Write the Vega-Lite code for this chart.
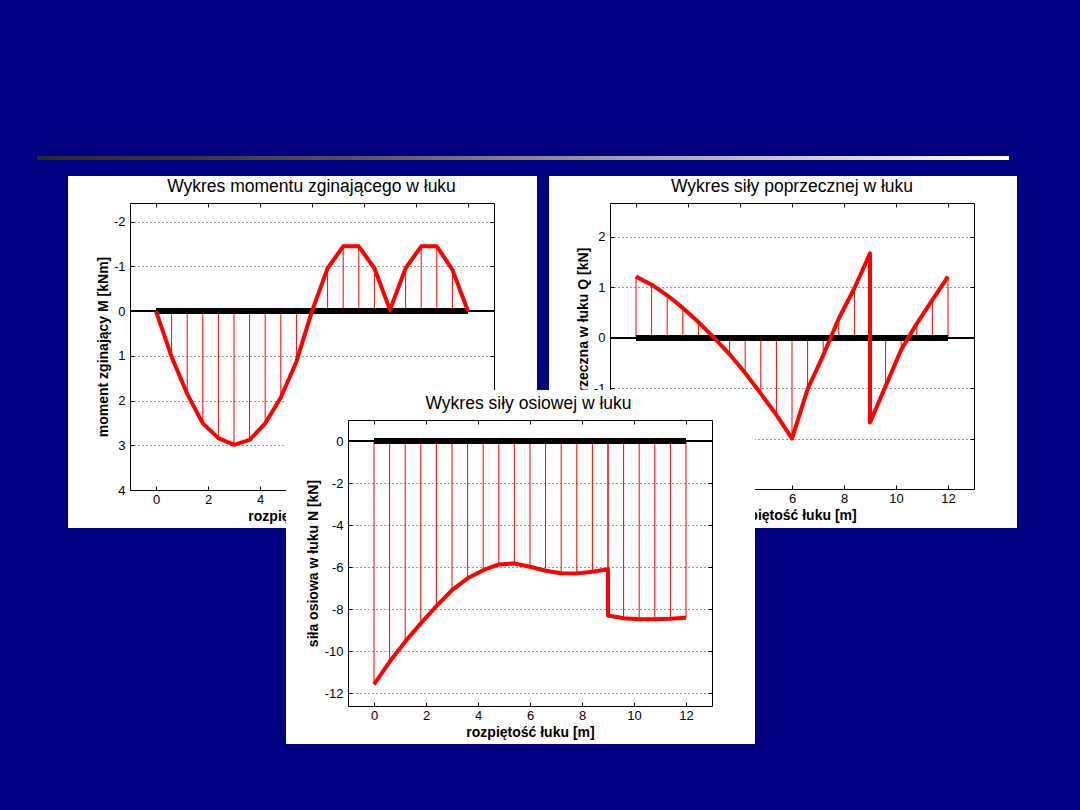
{
  "$schema": "https://vega.github.io/schema/vega-lite/v6.json",
  "background": "#000080",
  "padding": {"left": 37, "top": 156, "right": 63, "bottom": 66},
  "config": {
    "font": "Liberation Sans",
    "view": {"stroke": null},
    "title": {"font": "Liberation Sans", "fontSize": 17.5, "fontWeight": "normal", "color": "black", "anchor": "middle", "frame": "group", "baseline": "alphabetic"},
    "axis": {
      "grid": false, "domainColor": "black", "domainWidth": 1, "tickColor": "black", "tickSize": -4, "tickWidth": 1,
      "labelColor": "black", "labelFont": "Liberation Sans", "labelFontSize": 13, "labelFlush": false, "labelOverlap": false,
      "titleColor": "black", "titleFont": "Liberation Sans", "titleFontSize": 14, "titleFontWeight": "bold",
      "gridColor": "#333333", "gridDash": [1, 3], "gridWidth": 1, "gridOpacity": 1
    },
    "axisX": {"labelPadding": 7, "titlePadding": 3},
    "axisY": {"labelPadding": 9}
  },
  "datasets": {
    "M": [
      {"x": 0, "M": 0}, {"x": 0.6, "M": 1.02}, {"x": 1.2, "M": 1.85}, {"x": 1.8, "M": 2.51}, {"x": 2.4, "M": 2.84},
      {"x": 3.0, "M": 2.99}, {"x": 3.6, "M": 2.88}, {"x": 4.2, "M": 2.51}, {"x": 4.8, "M": 1.93}, {"x": 5.4, "M": 1.13},
      {"x": 6.0, "M": 0.0}, {"x": 6.6, "M": -0.96}, {"x": 7.2, "M": -1.45}, {"x": 7.8, "M": -1.45}, {"x": 8.4, "M": -0.96},
      {"x": 9.0, "M": -0.03}, {"x": 9.6, "M": -0.96}, {"x": 10.2, "M": -1.45}, {"x": 10.8, "M": -1.45}, {"x": 11.4, "M": -0.93},
      {"x": 12.0, "M": 0}
    ],
    "Q": [
      {"i": 0, "x": 0, "Q": 1.21}, {"i": 1, "x": 0.6, "Q": 1.05}, {"i": 2, "x": 1.2, "Q": 0.84}, {"i": 3, "x": 1.8, "Q": 0.59},
      {"i": 4, "x": 2.4, "Q": 0.31}, {"i": 5, "x": 3.0, "Q": 0.0}, {"i": 6, "x": 3.6, "Q": -0.33}, {"i": 7, "x": 4.2, "Q": -0.7},
      {"i": 8, "x": 4.8, "Q": -1.11}, {"i": 9, "x": 5.4, "Q": -1.53}, {"i": 10, "x": 6.0, "Q": -2.0}, {"i": 11, "x": 6.6, "Q": -1.02},
      {"i": 12, "x": 7.2, "Q": -0.35}, {"i": 13, "x": 7.8, "Q": 0.38}, {"i": 14, "x": 8.4, "Q": 0.98}, {"i": 15, "x": 9.0, "Q": 1.67},
      {"i": 16, "x": 9.0, "Q": -1.68}, {"i": 17, "x": 9.6, "Q": -0.96}, {"i": 18, "x": 10.2, "Q": -0.24}, {"i": 19, "x": 10.8, "Q": 0.28},
      {"i": 20, "x": 11.4, "Q": 0.75}, {"i": 21, "x": 12.0, "Q": 1.21}
    ],
    "N": [
      {"i": 0, "x": 0, "N": -11.57}, {"i": 1, "x": 0.6, "N": -10.5}, {"i": 2, "x": 1.2, "N": -9.54}, {"i": 3, "x": 1.8, "N": -8.67},
      {"i": 4, "x": 2.4, "N": -7.85}, {"i": 5, "x": 3.0, "N": -7.09}, {"i": 6, "x": 3.6, "N": -6.53}, {"i": 7, "x": 4.2, "N": -6.14},
      {"i": 8, "x": 4.8, "N": -5.87}, {"i": 9, "x": 5.4, "N": -5.82}, {"i": 10, "x": 6.0, "N": -5.98}, {"i": 11, "x": 6.6, "N": -6.17},
      {"i": 12, "x": 7.2, "N": -6.29}, {"i": 13, "x": 7.8, "N": -6.3}, {"i": 14, "x": 8.4, "N": -6.22}, {"i": 15, "x": 9.0, "N": -6.1},
      {"i": 16, "x": 9.0, "N": -8.3}, {"i": 17, "x": 9.6, "N": -8.43}, {"i": 18, "x": 10.2, "N": -8.48}, {"i": 19, "x": 10.8, "N": -8.48},
      {"i": 20, "x": 11.4, "N": -8.45}, {"i": 21, "x": 12.0, "N": -8.4}
    ]
  },
  "spacing": 16,
  "vconcat": [
    {
      "width": 972, "height": 4,
      "data": {"values": [{"element": "separator"}]},
      "mark": {"type": "rect", "stroke": null, "fill": {"gradient": "linear", "x1": 0, "y1": 0, "x2": 1, "y2": 0,
        "stops": [
          {"offset": 0, "color": "#2a2a2a"}, {"offset": 0.157, "color": "#383838"}, {"offset": 0.288, "color": "#4e4e4e"},
          {"offset": 0.366, "color": "#606060"}, {"offset": 0.459, "color": "#7a7a7a"}, {"offset": 0.613, "color": "#a4a4a4"},
          {"offset": 0.708, "color": "#b8b8b8"}, {"offset": 0.79, "color": "#cdcdcd"}, {"offset": 0.865, "color": "#dedede"},
          {"offset": 0.964, "color": "#f6f6f6"}, {"offset": 1, "color": "#ffffff"}
        ]}},
      "encoding": {}
    },
    {
      "columns": 1,
      "align": "none",
      "bounds": "full",
      "spacing": -138,
      "concat": [
        {
          "spacing": 12,
          "hconcat": [
            {"width": 19, "height": 1, "data": {"values": []}, "mark": "point"},
            {
              "width": 469, "height": 352,
              "view": {"fill": "white", "stroke": null},
              "title": {"text": "Wykres momentu zginającego w łuku", "offset": -19, "dx": 9},
              "data": {"name": "M"},
              "resolve": {"axis": {"x": "independent", "y": "independent"}},
              "layer": [
                {
                  "mark": {"type": "rule", "color": "#ff0000", "strokeWidth": 1},
                  "encoding": {
                    "x": {"field": "x", "type": "quantitative",
                      "scale": {"domain": [-1, 13], "range": [62, 426], "nice": false, "zero": false},
                      "axis": {"orient": "bottom", "values": [0, 2, 4, 6, 8, 10, 12], "title": "rozpiętość łuku [m]", "offset": -38}},
                    "y": {"field": "M", "type": "quantitative",
                      "scale": {"domain": [-2.42, 4], "range": [27, 314], "nice": false, "zero": false},
                      "axis": {"orient": "left", "values": [-2, -1, 0, 1, 2, 3, 4], "labelExpr": "'' + datum.value", "title": "moment zginający M [kNm]", "offset": -62, "grid": true, "minExtent": 18, "maxExtent": 18, "titlePadding": 2}},
                    "y2": {"datum": 0}
                  }
                },
                {
                  "mark": {"type": "rule", "color": "black", "strokeWidth": 1},
                  "encoding": {"x": {"datum": -1, "axis": null}, "x2": {"datum": 13}, "y": {"datum": 0, "axis": null}}
                },
                {
                  "mark": {"type": "rule", "color": "black", "strokeWidth": 5},
                  "encoding": {"x": {"datum": 0, "axis": null}, "x2": {"datum": 12}, "y": {"datum": 0, "axis": null}}
                },
                {
                  "mark": {"type": "line", "color": "#ff0000", "strokeWidth": 4, "strokeJoin": "round"},
                  "encoding": {
                    "x": {"field": "x", "type": "quantitative", "axis": {"orient": "top", "values": [0, 2, 4, 6, 8, 10, 12], "labels": false, "title": null, "offset": -27}},
                    "y": {"field": "M", "type": "quantitative", "axis": {"orient": "right", "values": [-2, -1, 0, 1, 2, 3, 4], "labels": false, "title": null, "offset": -43}}
                  }
                }
              ]
            },
            {
              "width": 468, "height": 352,
              "view": {"fill": "white", "stroke": null},
              "title": {"text": "Wykres siły poprzecznej w łuku", "offset": -19, "dx": 9},
              "data": {"name": "Q"},
              "resolve": {"axis": {"x": "independent", "y": "independent"}},
              "layer": [
                {
                  "mark": {"type": "rule", "color": "#ff0000", "strokeWidth": 1},
                  "encoding": {
                    "x": {"field": "x", "type": "quantitative",
                      "scale": {"domain": [-1, 13], "range": [61, 425], "nice": false, "zero": false},
                      "axis": {"orient": "bottom", "values": [0, 2, 4, 6, 8, 10, 12], "title": "rozpiętość łuku [m]", "offset": -39}},
                    "y": {"field": "Q", "type": "quantitative",
                      "scale": {"domain": [-3, 2.67], "range": [313, 27], "nice": false, "zero": false},
                      "axis": {"orient": "left", "values": [-3, -2, -1, 0, 1, 2], "labelExpr": "'' + datum.value", "title": "siła poprzeczna w łuku Q [kN]", "offset": -61, "grid": true, "minExtent": 18, "maxExtent": 18, "titlePadding": 2}},
                    "y2": {"datum": 0}
                  }
                },
                {
                  "mark": {"type": "rule", "color": "black", "strokeWidth": 1},
                  "encoding": {"x": {"datum": -1, "axis": null}, "x2": {"datum": 13}, "y": {"datum": 0, "axis": null}}
                },
                {
                  "mark": {"type": "rule", "color": "black", "strokeWidth": 5},
                  "encoding": {"x": {"datum": 0, "axis": null}, "x2": {"datum": 12}, "y": {"datum": 0, "axis": null}}
                },
                {
                  "mark": {"type": "line", "color": "#ff0000", "strokeWidth": 4, "strokeJoin": "round"},
                  "encoding": {
                    "x": {"field": "x", "type": "quantitative", "axis": {"orient": "top", "values": [0, 2, 4, 6, 8, 10, 12], "labels": false, "title": null, "offset": -27}},
                    "y": {"field": "Q", "type": "quantitative", "axis": {"orient": "right", "values": [-3, -2, -1, 0, 1, 2], "labels": false, "title": null, "offset": -43}},
                    "order": {"field": "i"}
                  }
                }
              ]
            }
          ]
        },
        {
          "spacing": 12,
          "hconcat": [
            {"width": 237, "height": 1, "data": {"values": []}, "mark": "point"},
            {
              "width": 469, "height": 354,
              "view": {"fill": "white", "stroke": null},
              "title": {"text": "Wykres siły osiowej w łuku", "offset": -22, "dx": 8},
              "data": {"name": "N"},
              "resolve": {"axis": {"x": "independent", "y": "independent"}},
              "layer": [
                {
                  "mark": {"type": "rule", "color": "#ff0000", "strokeWidth": 1},
                  "encoding": {
                    "x": {"field": "x", "type": "quantitative",
                      "scale": {"domain": [-1, 13], "range": [62, 426], "nice": false, "zero": false},
                      "axis": {"orient": "bottom", "values": [0, 2, 4, 6, 8, 10, 12], "title": "rozpiętość łuku [m]", "offset": -38}},
                    "y": {"field": "N", "type": "quantitative",
                      "scale": {"domain": [-12.6, 1], "range": [316, 30], "nice": false, "zero": false},
                      "axis": {"orient": "left", "values": [-12, -10, -8, -6, -4, -2, 0], "labelExpr": "'' + datum.value", "title": "siła osiowa w łuku N [kN]", "offset": -62, "grid": true, "minExtent": 24, "maxExtent": 24, "titlePadding": 4}},
                    "y2": {"datum": 0}
                  }
                },
                {
                  "mark": {"type": "rule", "color": "black", "strokeWidth": 1},
                  "encoding": {"x": {"datum": -1, "axis": null}, "x2": {"datum": 13}, "y": {"datum": 0, "axis": null}}
                },
                {
                  "mark": {"type": "rule", "color": "black", "strokeWidth": 5},
                  "encoding": {"x": {"datum": 0, "axis": null}, "x2": {"datum": 12}, "y": {"datum": 0, "axis": null}}
                },
                {
                  "mark": {"type": "line", "color": "#ff0000", "strokeWidth": 4, "strokeJoin": "round"},
                  "encoding": {
                    "x": {"field": "x", "type": "quantitative", "axis": {"orient": "top", "values": [0, 2, 4, 6, 8, 10, 12], "labels": false, "title": null, "offset": -30}},
                    "y": {"field": "N", "type": "quantitative", "axis": {"orient": "right", "values": [-12, -10, -8, -6, -4, -2, 0], "labels": false, "title": null, "offset": -43}},
                    "order": {"field": "i"}
                  }
                }
              ]
            }
          ]
        }
      ]
    }
  ]
}
